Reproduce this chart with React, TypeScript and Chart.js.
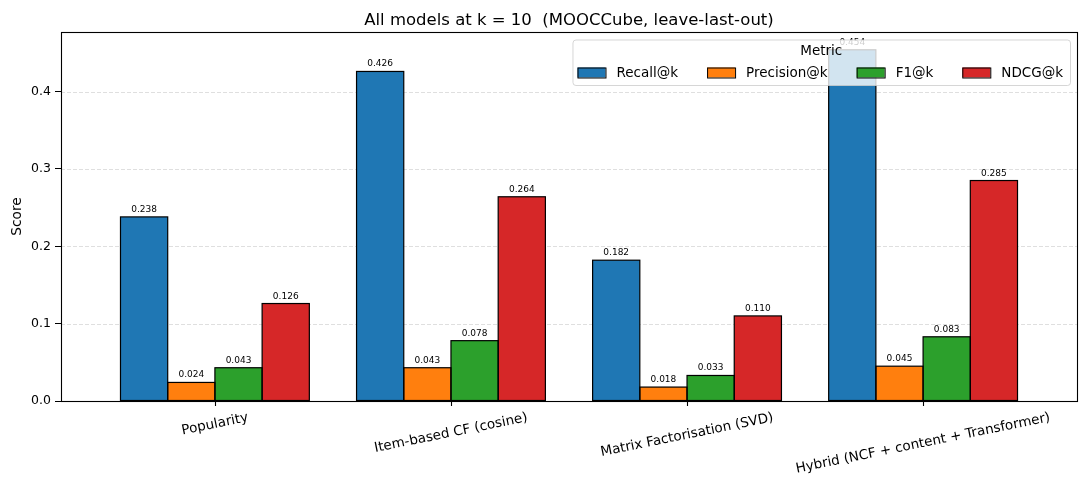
import { useEffect, useRef } from "react";
import { Chart, registerables } from "chart.js";

Chart.register(...registerables);

const models = [
  "Popularity",
  "Item-based CF (cosine)",
  "Matrix Factorisation (SVD)",
  "Hybrid (NCF + content + Transformer)",
];
const metrics = ["Recall@k", "Precision@k", "F1@k", "NDCG@k"];
const recall = [0.238, 0.426, 0.182, 0.454];
const precision = [0.024, 0.043, 0.018, 0.045];
const f1 = [0.043, 0.078, 0.033, 0.083];
const ndcg = [0.126, 0.264, 0.11, 0.285];
const yTicks = [0, 0.1, 0.2, 0.3, 0.4];

const colors = ["#1f77b4", "#ff7f0e", "#2ca02c", "#d62728"];
const FONT = "'DejaVu Sans', sans-serif";
const TITLE = "All models at k = 10  (MOOCCube, leave-last-out)";

// everything matplotlib draws outside the bars
const decorations = {
  id: "decorations",
  beforeDatasetsDraw(chart: any) {
    const { ctx, chartArea, scales } = chart;
    ctx.save();
    ctx.strokeStyle = "rgba(176,176,176,0.4)";
    ctx.lineWidth = 1;
    ctx.setLineDash([4, 2]);
    yTicks.forEach((v) => {
      if (v === 0) return;
      const y = Math.round(scales.y.getPixelForValue(v)) + 0.5;
      ctx.beginPath();
      ctx.moveTo(chartArea.left, y);
      ctx.lineTo(chartArea.right, y);
      ctx.stroke();
    });
    ctx.restore();
  },
  afterDatasetsDraw(chart: any) {
    const { ctx, chartArea, scales } = chart;
    ctx.save();

    // bar edges + value labels
    chart.data.datasets.forEach((ds: any, di: number) => {
      const meta = chart.getDatasetMeta(di);
      meta.data.forEach((el: any, i: number) => {
        const { x, y, base, width } = el.getProps(["x", "y", "base", "width"], true);
        ctx.strokeStyle = "#000";
        ctx.lineWidth = 1.2;
        ctx.strokeRect(x - width / 2, y, width, base - y);
        ctx.fillStyle = "#000";
        ctx.font = `9px ${FONT}`;
        ctx.textAlign = "center";
        ctx.textBaseline = "alphabetic";
        ctx.fillText(ds.data[i].y.toFixed(3), x, y - 5);
      });
    });

    // spines
    ctx.strokeStyle = "#000";
    ctx.lineWidth = 1.1;
    ctx.strokeRect(chartArea.left + 0.5, chartArea.top + 0.5, chartArea.right - chartArea.left, chartArea.bottom - chartArea.top);

    // x ticks and rotated labels
    const ang = (11.5 * Math.PI) / 180;
    ctx.font = `13.5px ${FONT}`;
    models.forEach((m, i) => {
      const x = scales.x.getPixelForValue(i);
      ctx.beginPath();
      ctx.moveTo(Math.round(x) + 0.5, chartArea.bottom);
      ctx.lineTo(Math.round(x) + 0.5, chartArea.bottom + 5);
      ctx.stroke();
      const w = ctx.measureText(m).width;
      const h = 15.5;
      const half = (w * Math.sin(ang) + h * Math.cos(ang)) / 2;
      ctx.save();
      ctx.translate(x, chartArea.bottom + 9 + half);
      ctx.rotate(-ang);
      ctx.textAlign = "center";
      ctx.textBaseline = "middle";
      ctx.fillStyle = "#000";
      ctx.fillText(m, 0, 0);
      ctx.restore();
    });

    // y title
    ctx.save();
    ctx.translate(17, (chartArea.top + chartArea.bottom) / 2);
    ctx.rotate(-Math.PI / 2);
    ctx.font = `13.7px ${FONT}`;
    ctx.textAlign = "center";
    ctx.textBaseline = "middle";
    ctx.fillStyle = "#000";
    ctx.fillText("Score", 0, 0);
    ctx.restore();

    // title
    ctx.font = `16.5px ${FONT}`;
    ctx.textAlign = "center";
    ctx.textBaseline = "alphabetic";
    ctx.fillStyle = "#000";
    ctx.fillText(TITLE, (chartArea.left + chartArea.right) / 2, 25);

    ctx.restore();
  },
  afterDraw(chart: any) {
    const { ctx, chartArea } = chart;
    ctx.save();
    ctx.font = `13.5px ${FONT}`;
    const handleW = 28;
    const gap = 11;
    const colGap = 29;
    const pad = 6;
    const widths = metrics.map((m) => ctx.measureText(m).width);
    const content = widths.reduce((a, b) => a + b, 0) + metrics.length * (handleW + gap) + (metrics.length - 1) * colGap;
    const right = chartArea.right - 7;
    const left = right - content - 2 * pad;
    const top = chartArea.top + 7.5;
    const bottom = top + 45.5;

    ctx.beginPath();
    ctx.roundRect(left + 0.5, top + 0.5, right - left, bottom - top, 3);
    ctx.fillStyle = "rgba(255,255,255,0.8)";
    ctx.fill();
    ctx.strokeStyle = "rgba(204,204,204,0.8)";
    ctx.lineWidth = 1;
    ctx.stroke();

    ctx.fillStyle = "#000";
    ctx.textAlign = "center";
    ctx.textBaseline = "alphabetic";
    ctx.fillText("Metric", (left + right) / 2, top + 15.5);

    let x = left + pad - 1;
    const cy = top + 33;
    metrics.forEach((m, i) => {
      ctx.fillStyle = colors[i];
      ctx.fillRect(x, cy - 5, handleW, 10);
      ctx.strokeStyle = "#000";
      ctx.strokeRect(x + 0.5, cy - 5 + 0.5, handleW, 10);
      ctx.fillStyle = "#000";
      ctx.textAlign = "left";
      ctx.fillText(m, x + handleW + gap, cy + 4.5);
      x += handleW + gap + widths[i] + colGap;
    });
    ctx.restore();
  },
};

const App: React.FC = () => {
  const canvasRef = useRef<HTMLCanvasElement | null>(null);

  useEffect(() => {
    document.body.style.margin = "0";
    if (!canvasRef.current) return;
    const series = [recall, precision, f1, ndcg];
    const chart = new Chart(canvasRef.current, {
      type: "bar",
      data: {
        datasets: metrics.map((m, k) => ({
          label: m,
          data: series[k].map((v, i) => ({ x: i, y: v })),
          backgroundColor: colors[k],
          borderWidth: 0,
          categoryPercentage: 0.8,
          barPercentage: 1.0,
        })),
      },
      options: {
        animation: false,
        responsive: false,
        devicePixelRatio: 1,
        layout: { padding: { left: 0, right: 9, top: 32, bottom: 89 } },
        plugins: { legend: { display: false }, tooltip: { enabled: false }, title: { display: false } },
        scales: {
          x: {
            type: "linear",
            min: -0.652,
            max: 3.652,
            offset: false,
            display: false,
            afterBuildTicks: (axis: any) => {
              axis.ticks = models.map((_, i) => ({ value: i }));
            },
          },
          y: {
            min: 0,
            max: 0.477,
            afterBuildTicks: (axis: any) => {
              axis.ticks = yTicks.map((v) => ({ value: v }));
            },
            afterFit: (axis: any) => {
              axis.width = 61;
            },
            border: { display: false },
            grid: { drawOnChartArea: false, drawTicks: true, tickLength: 6, tickColor: "#000", tickWidth: 1 },
            ticks: {
              padding: 4,
              color: "#000",
              font: { family: FONT, size: 12.5 },
              callback: (v: any) => Number(v).toFixed(1),
            },
          },
        },
      },
      plugins: [decorations],
    });
    return () => {
      chart.destroy();
    };
  }, []);

  return <canvas ref={canvasRef} width={1086} height={490} />;
};

export default App;
